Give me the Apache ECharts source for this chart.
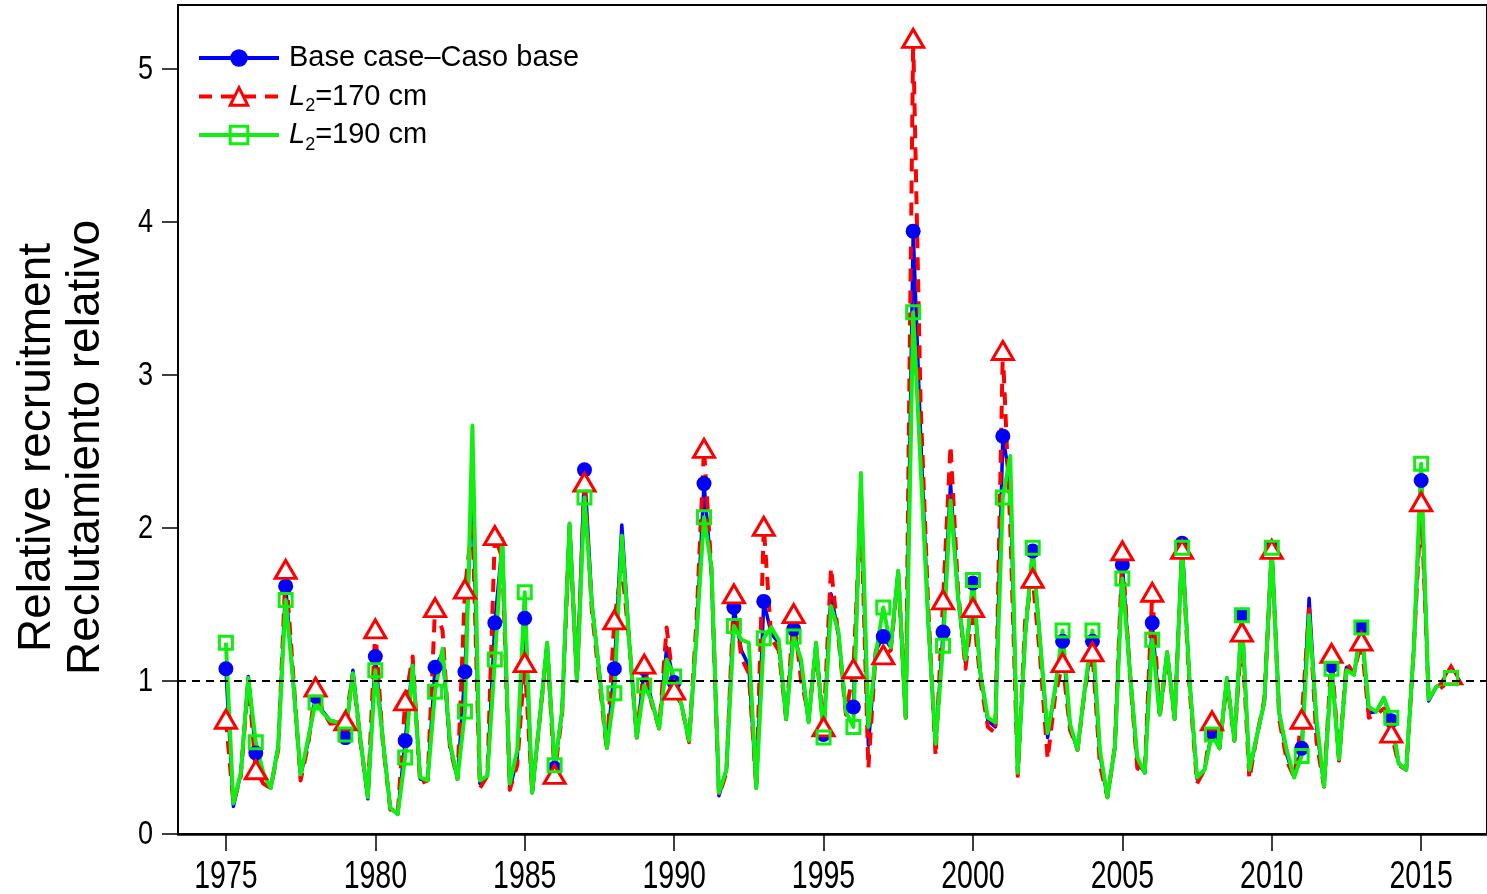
<!DOCTYPE html>
<html><head><meta charset="utf-8">
<script src="https://cdn.jsdelivr.net/npm/echarts@6/dist/echarts.min.js"></script>
<style>html,body{margin:0;padding:0;background:#fff}#c{width:1487px;height:894px}</style>
</head><body><div id="c"></div>
<script>
// quarterly series, first point = 1975 Q1, step 0.25 year
const startYear = 1975;
const xTicks = [1975, 1980, 1985, 1990, 1995, 2000, 2005, 2010, 2015];
const yTicks = [0, 1, 2, 3, 4, 5];
const seriesNames = ['Base case\u2013Caso base', 'L2=170 cm', 'L2=190 cm'];

const baseCase = [
  1.08,0.18,0.40,1.03, 0.53,0.40,0.30,0.57, 1.62,1.00,0.38,0.60, 0.90,0.80,0.74,0.73,
  0.63,1.07,0.62,0.23, 1.16,0.62,0.17,0.13, 0.61,1.12,0.36,0.35, 1.09,1.18,0.58,0.36,
  1.06,2.35,0.33,0.38, 1.38,1.90,0.29,0.50, 1.41,0.27,0.75,1.25, 0.43,0.80,2.03,1.00,
  2.38,1.50,1.05,0.56, 1.08,2.02,1.25,0.63, 1.08,0.87,0.69,1.22, 0.99,0.84,0.61,1.30,
  2.29,1.70,0.25,0.42, 1.48,1.20,1.10,0.30, 1.52,1.31,1.25,0.75, 1.34,1.10,0.73,1.25,
  0.65,1.57,1.30,0.80, 0.83,2.30,0.58,1.20, 1.29,1.22,1.72,0.76, 3.94,2.60,1.40,0.57,
  1.32,2.29,1.55,1.12, 1.64,1.05,0.74,0.70, 2.60,2.30,0.40,1.30, 1.85,1.25,0.63,0.95,
  1.26,0.70,0.55,0.96, 1.26,0.52,0.24,0.57, 1.76,1.07,0.47,0.40, 1.38,0.78,1.19,0.75,
  1.90,1.00,0.36,0.42, 0.67,0.56,1.02,0.61, 1.43,0.40,0.64,0.86, 1.87,0.79,0.52,0.37,
  0.56,1.54,0.70,0.31, 1.10,0.48,1.09,1.04, 1.35,0.79,0.80,0.89, 0.74,0.46,0.42,1.20,
  2.31,0.87,0.96,0.99, 1.02,1.00
];
const l2_170 = [
  0.75,0.20,0.38,1.00, 0.42,0.33,0.30,0.55, 1.73,1.05,0.35,0.58, 0.96,0.80,0.72,0.73,
  0.74,1.04,0.60,0.25, 1.34,0.60,0.16,0.13, 0.87,1.16,0.33,0.35, 1.48,1.33,0.56,0.36,
  1.60,2.05,0.30,0.38, 1.95,1.80,0.29,0.45, 1.12,0.27,0.75,1.22, 0.39,0.78,2.00,1.00,
  2.30,1.45,1.00,0.54, 1.40,1.75,1.25,0.63, 1.11,0.85,0.69,1.35, 0.94,0.84,0.60,1.40,
  2.52,1.72,0.25,0.40, 1.57,1.15,1.05,0.30, 2.01,1.28,1.20,0.75, 1.44,1.00,0.78,1.20,
  0.70,1.74,1.28,0.78, 1.08,2.15,0.43,1.20, 1.17,1.20,1.70,0.76, 5.20,2.80,1.50,0.51,
  1.53,2.54,1.60,1.08, 1.48,1.00,0.70,0.66, 3.16,2.00,0.38,1.40, 1.67,1.15,0.49,0.90,
  1.12,0.68,0.55,0.95, 1.19,0.45,0.24,0.57, 1.85,1.05,0.43,0.40, 1.58,0.76,1.17,0.75,
  1.86,0.95,0.33,0.42, 0.74,0.56,1.00,0.61, 1.32,0.36,0.64,0.88, 1.86,0.75,0.48,0.37,
  0.75,1.47,0.60,0.31, 1.18,0.48,1.12,1.05, 1.26,0.76,0.78,0.82, 0.66,0.45,0.42,1.20,
  2.17,0.90,0.93,0.97, 1.04,0.97
];
const l2_190 = [
  1.25,0.20,0.40,1.02, 0.60,0.40,0.30,0.57, 1.53,1.00,0.39,0.62, 0.86,0.79,0.74,0.73,
  0.65,1.05,0.62,0.24, 1.07,0.62,0.17,0.13, 0.50,1.10,0.37,0.35, 0.93,1.21,0.60,0.36,
  0.80,2.67,0.35,0.38, 1.14,1.93,0.33,0.55, 1.58,0.27,0.75,1.25, 0.45,0.80,2.03,1.00,
  2.20,1.50,1.05,0.56, 0.92,1.95,1.25,0.63, 0.97,0.87,0.69,1.14, 1.03,0.84,0.61,1.30,
  2.07,1.74,0.27,0.42, 1.36,1.27,1.25,0.30, 1.28,1.35,1.27,0.75, 1.29,1.14,0.73,1.25,
  0.63,1.49,1.32,0.80, 0.70,2.36,0.70,1.18, 1.48,1.22,1.72,0.76, 3.41,2.40,1.40,0.59,
  1.23,2.18,1.55,1.14, 1.66,1.05,0.76,0.73, 2.20,2.47,0.40,1.30, 1.87,1.25,0.66,0.95,
  1.33,0.72,0.55,0.96, 1.33,0.55,0.24,0.57, 1.67,1.07,0.50,0.40, 1.27,0.78,1.19,0.75,
  1.87,1.00,0.37,0.42, 0.65,0.56,1.02,0.61, 1.43,0.42,0.64,0.86, 1.87,0.79,0.55,0.37,
  0.51,1.43,0.75,0.31, 1.08,0.49,1.07,1.04, 1.35,0.83,0.80,0.89, 0.76,0.46,0.42,1.20,
  2.42,0.88,0.96,0.99, 1.02,1.01
];

const REG = '"Liberation Sans", Arial, sans-serif';
const BLUE = '#0000ff', RED = '#ff0000', GREEN = '#11ee11';

function toData(arr) {
  return arr.map((v, i) => {
    const item = { value: [startYear + i / 4, v] };
    if (i % 4 !== 0) item.symbol = 'none';
    return item;
  });
}

const chart = echarts.init(document.getElementById('c'), null, { renderer: 'canvas' });
chart.setOption({
  animation: false,
  backgroundColor: '#fff',
  grid: { left: 178, right: -3, top: 5, bottom: 60, show: true, borderColor: '#000', borderWidth: 2, backgroundColor: 'transparent' },
  legend: {
    left: 197, top: 39, padding: 0, orient: 'vertical', itemWidth: 80, itemHeight: 22, itemGap: 0.5,
    data: [
      { name: seriesNames[0], lineStyle: { width: 4, color: BLUE }, itemStyle: { color: BLUE } },
      { name: seriesNames[1], lineStyle: { width: 4, color: RED, type: [13, 9] }, itemStyle: { color: '#fff', borderColor: RED, borderWidth: 3 } },
      { name: seriesNames[2], lineStyle: { width: 4, color: GREEN }, itemStyle: { color: 'rgba(255,255,255,0)', borderColor: GREEN, borderWidth: 3 } }
    ],
    formatter: function (name) {
      if (name.indexOf('L2') === 0) return '{i|L}{s|2}' + name.slice(2);
      return name;
    },
    textStyle: {
      fontSize: 29, fontFamily: REG, color: '#000', lineHeight: 38, padding: [0, 0, 0, 5],
      rich: {
        i: { fontSize: 29, fontFamily: REG, fontStyle: 'italic', color: '#000', lineHeight: 38 },
        s: { fontSize: 18, fontFamily: REG, color: '#000', lineHeight: 18, padding: [20, 0, 0, 0], verticalAlign: 'top' }
      }
    }
  },
  xAxis: {
    type: 'value', min: 1973.397, max: 2017.203,
    axisLine: { show: true, lineStyle: { color: '#000', width: 2.5 } },
    axisTick: { show: true, length: 17, customValues: xTicks, lineStyle: { color: '#000', width: 1.5 } },
    axisLabel: { show: false },
    splitLine: { show: false }
  },
  yAxis: {
    type: 'value', min: 0, max: 5.418,
    axisLine: { show: true, lineStyle: { color: '#000', width: 2 } },
    axisTick: { show: true, length: 16, customValues: yTicks, lineStyle: { color: '#000', width: 1.5 } },
    axisLabel: { show: false },
    splitLine: { show: false },
    name: 'Relative recruitment\nReclutamiento relativo',
    nameLocation: 'middle', nameRotate: 90, nameGap: 67,
    nameTextStyle: { fontSize: 46, fontFamily: REG, color: '#000', lineHeight: 49, padding: [0, 56, 0, 0] }
  },
  series: [
    {
      type: 'line', name: seriesNames[0], data: toData(baseCase),
      symbol: 'circle', symbolSize: 15,
      lineStyle: { color: BLUE, width: 3.5, join: 'round' },
      itemStyle: { color: BLUE },
      emphasis: { disabled: true },
      markLine: {
        silent: true, symbol: 'none', label: { show: false },
        lineStyle: { color: '#000', type: [8, 6], width: 2 },
        data: [{ yAxis: 1 }]
      }
    },
    {
      type: 'line', name: seriesNames[1], data: toData(l2_170),
      symbol: 'triangle', symbolSize: [21, 18],
      lineStyle: { color: RED, width: 4, type: [13, 9], join: 'round' },
      itemStyle: { color: '#ffffff', borderColor: RED, borderWidth: 3 },
      emphasis: { disabled: true }
    },
    {
      type: 'line', name: seriesNames[2], data: toData(l2_190),
      symbol: 'rect', symbolSize: 13,
      lineStyle: { color: GREEN, width: 4, join: 'round' },
      itemStyle: { color: 'rgba(255,255,255,0)', borderColor: GREEN, borderWidth: 3 },
      emphasis: { disabled: true }
    }
  ]
});

// tick labels drawn as condensed text at positions given by the axes
const labels = [];
xTicks.forEach(v => {
  const px = chart.convertToPixel({ xAxisIndex: 0 }, v);
  labels.push({ type: 'text', x: px, y: 877, scaleX: 0.73, silent: true,
    style: { text: String(v), fontSize: 39, fontFamily: REG, fill: '#000', align: 'center', verticalAlign: 'middle' } });
});
yTicks.forEach(v => {
  const py = chart.convertToPixel({ yAxisIndex: 0 }, v);
  labels.push({ type: 'text', x: 153, y: py + 1, scaleX: 0.82, silent: true,
    style: { text: String(v), fontSize: 33, fontFamily: REG, fill: '#000', align: 'right', verticalAlign: 'middle' } });
});
chart.setOption({ graphic: labels });
</script>
</body></html>
